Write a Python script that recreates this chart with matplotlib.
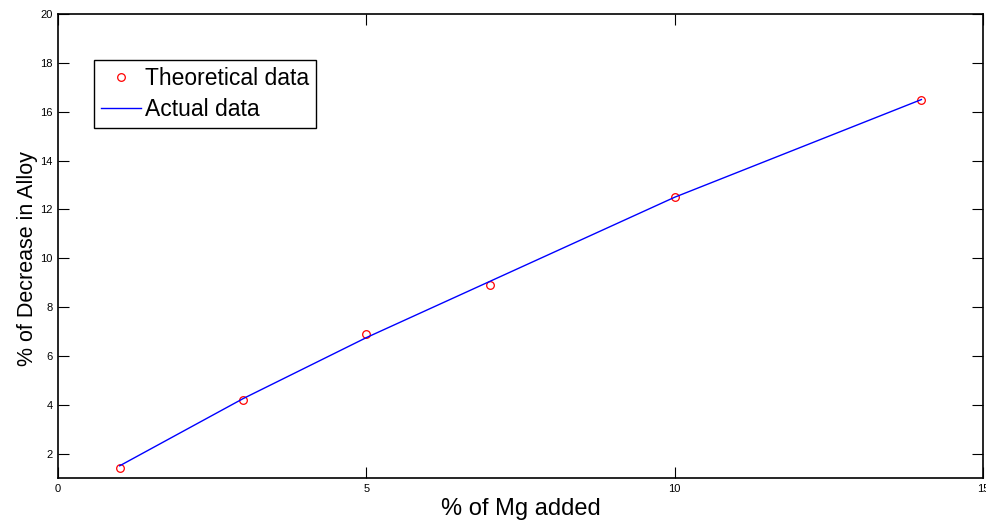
import matplotlib.pyplot as plt

plt.rcParams['font.family'] = ['Liberation Sans', 'DejaVu Sans']

mg_added = [1, 3, 5, 7, 10, 14]
theoretical = [1.4, 4.2, 6.9, 8.9, 12.5, 16.5]
actual = [1.5, 4.25, 6.75, 9.05, 12.5, 16.5]

x_ticks = [0, 5, 10, 15]
y_ticks = [2, 4, 6, 8, 10, 12, 14, 16, 18, 20]

fig = plt.figure(figsize=(9.87, 5.22), dpi=100)
ax = fig.add_axes([0.0588, 0.0843, 0.9372, 0.8887])

ax.plot(mg_added, theoretical, 'o', markersize=5.5, markerfacecolor='none',
        markeredgecolor='red', markeredgewidth=0.9, label='Theoretical data')
ax.plot(mg_added, actual, '-', color='blue', linewidth=1.0, label='Actual data')

ax.set_xlim(0, 15)
ax.set_ylim(1, 20)
ax.set_xticks(x_ticks)
ax.set_yticks(y_ticks)
ax.tick_params(direction='in', length=8, width=0.8, labelsize=8,
               top=True, right=True, pad=4)
for s in ax.spines.values():
    s.set_linewidth(1.2)

ax.set_xlabel('% of Mg added', fontsize=17, labelpad=3)
ax.set_ylabel('% of Decrease in Alloy', fontsize=15.5, labelpad=1.5)
ax.yaxis.label.set_y(0.472)

leg = ax.legend(loc='upper left', bbox_to_anchor=(0.039, 0.9), fontsize=16.5,
                frameon=True, fancybox=False, framealpha=1, borderpad=0.3,
                handlelength=1.75, handletextpad=0.15, labelspacing=0.35,
                borderaxespad=0)
leg.get_frame().set_edgecolor('black')
leg.get_frame().set_linewidth(1.0)

fig.savefig('out.png', dpi=100)
